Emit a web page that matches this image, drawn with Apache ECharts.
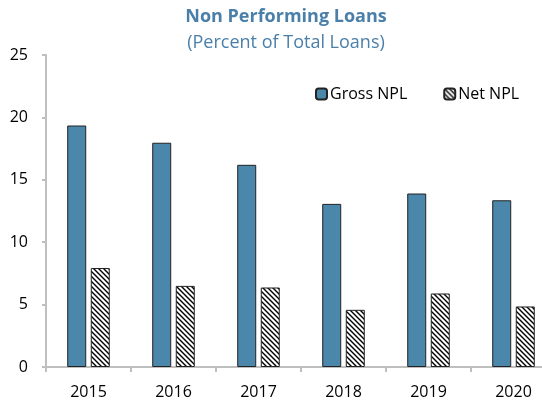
<!DOCTYPE html>
<html>
<head>
<meta charset="utf-8">
<script src="https://cdn.jsdelivr.net/npm/echarts@6/dist/echarts.min.js"></script>
<style>html,body{margin:0;padding:0;background:#fff;overflow:hidden;width:542px;height:400px;}#c{width:560px;height:400px;}</style>
</head>
<body>
<div id="c"></div>
<script>
var categories = ['2015', '2016', '2017', '2018', '2019', '2020'];
var grossNPL = [19.35, 17.97, 16.2, 13.07, 13.9, 13.36];
var netNPL = [7.93, 6.5, 6.37, 4.58, 5.89, 4.85];
var yTicks = [0, 5, 10, 15, 20, 25];

function hatch() {
  var s = 5;
  var cv = document.createElement('canvas');
  cv.width = s; cv.height = s;
  var ctx = cv.getContext('2d');
  ctx.fillStyle = '#fff';
  ctx.fillRect(0, 0, s, s);
  ctx.strokeStyle = '#000';
  ctx.lineWidth = 1.4;
  ctx.beginPath();
  ctx.moveTo(-1, -1); ctx.lineTo(s + 1, s + 1);
  ctx.moveTo(-1, s - 1); ctx.lineTo(1, s + 1);
  ctx.moveTo(s - 1, -1); ctx.lineTo(s + 1, 1);
  ctx.stroke();
  return cv;
}

var chart = echarts.init(document.getElementById('c'), null, {renderer: 'canvas'});
var font = '"Open Sans", sans-serif';
chart.setOption({
  animation: false,
  title: {
    text: 'Non Performing Loans',
    subtext: '(Percent of Total Loans)',
    left: 281,
    textAlign: 'center',
    top: 3,
    itemGap: 8,
    textStyle: {fontFamily: font, fontSize: 18, fontWeight: 'bold', color: '#4a7fa9'},
    subtextStyle: {fontFamily: font, fontSize: 18, color: '#4a7fa9'}
  },
  legend: {
    left: 310, top: 81,
    itemWidth: 11, itemHeight: 11, itemGap: 36,
    textStyle: {fontFamily: font, fontSize: 16, color: '#000', padding: [0, 0, 0, -2]},
    data: ['Gross NPL', 'Net NPL']
  },
  grid: {left: 46, width: 510, top: 55, bottom: 32, containLabel: false},
  xAxis: {
    type: 'category',
    data: categories,
    axisLine: {lineStyle: {color: '#bfbfbf', width: 2}},
    axisTick: {show: true, length: 5, lineStyle: {color: '#bfbfbf', width: 2}},
    axisLabel: {fontFamily: font, fontSize: 16, color: '#000', margin: 17}
  },
  yAxis: {
    type: 'value', min: 0, max: 25, interval: 5,
    axisLine: {show: true, lineStyle: {color: '#bfbfbf', width: 2}},
    axisTick: {show: true, inside: false, length: 4, lineStyle: {color: '#bfbfbf', width: 2}},
    splitLine: {show: false},
    axisLabel: {fontFamily: font, fontSize: 16, color: '#000', margin: 18,
      formatter: function (v) { return yTicks.indexOf(v) >= 0 ? String(v) : ''; }}
  },
  series: [
    {
      name: 'Gross NPL', type: 'bar', data: grossNPL,
      barWidth: 19, barGap: '24%',
      itemStyle: {color: '#4a87ab', borderColor: '#222', borderWidth: 1}
    },
    {
      name: 'Net NPL', type: 'bar', data: netNPL,
      barWidth: 19,
      itemStyle: {color: {image: hatch(), repeat: 'repeat'}, borderColor: '#222', borderWidth: 1}
    }
  ]
});
</script>
</body>
</html>
